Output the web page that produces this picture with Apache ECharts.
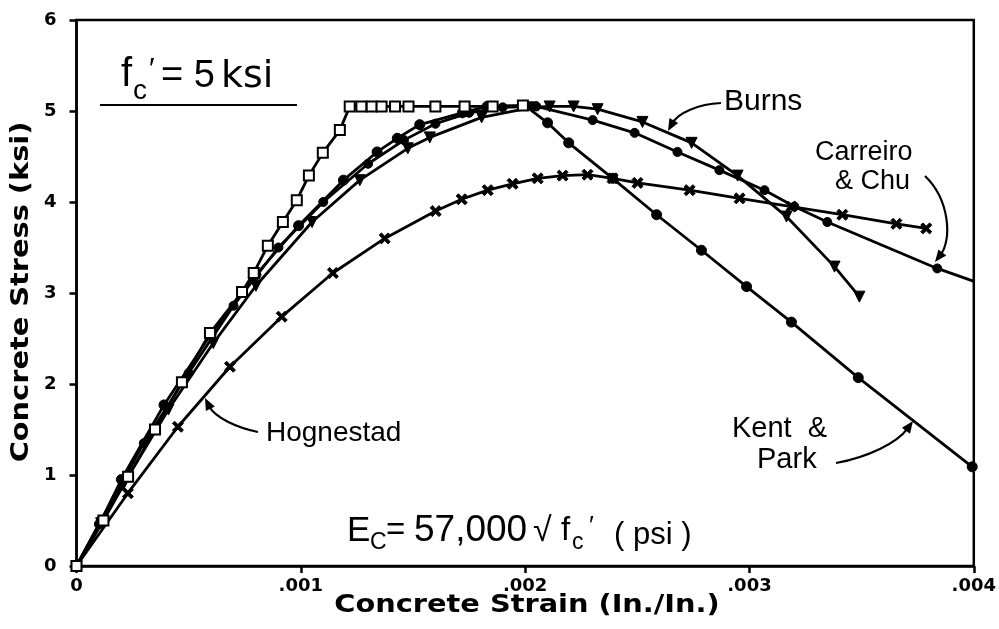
<!DOCTYPE html>
<html><head><meta charset="utf-8">
<script src="https://cdn.jsdelivr.net/npm/echarts@6/dist/echarts.min.js"></script>
<style>html,body{margin:0;padding:0;background:#fff}#c{width:999px;height:629px}</style>
</head><body><div id="c"></div>
<script>
// Strain values are in units of 0.001 in./in.; stress in ksi
const xTickLabels = ['0', '.001', '.002', '.003', '.004'];
const yTickLabels = ['0', '1', '2', '3', '4', '5', '6'];

const squareStrain = [0, 0.12, 0.23, 0.35, 0.47, 0.595, 0.738, 0.79, 0.853, 0.92, 0.982, 1.036, 1.098, 1.174, 1.218, 1.27, 1.316, 1.36, 1.42, 1.48, 1.60, 1.73, 1.855, 1.99];
const squareStress = [0, 0.5, 0.98, 1.5, 2.02, 2.56, 3.01, 3.22, 3.52, 3.78, 4.02, 4.29, 4.54, 4.79, 5.05, 5.05, 5.05, 5.05, 5.05, 5.05, 5.05, 5.05, 5.05, 5.06];

const kentParkStrain = [0, 0.11, 0.2, 0.39, 0.6, 0.8, 0.99, 1.19, 1.34, 1.43, 1.53, 1.72, 1.83, 2.0, 2.1, 2.194, 2.39, 2.586, 2.786, 2.987, 3.187, 3.485, 3.993];
const kentParkStress = [0, 0.5, 0.95, 1.77, 2.55, 3.2, 3.74, 4.24, 4.55, 4.70, 4.85, 4.98, 5.05, 5.06, 4.87, 4.65, 4.26, 3.86, 3.47, 3.07, 2.68, 2.07, 1.09];

const carreiroStrain = [0, 0.1, 0.3, 0.5, 0.7, 0.9, 1.1, 1.3, 1.46, 1.6, 1.75, 1.9, 2.05, 2.301, 2.488, 2.679, 2.866, 3.067, 3.2, 3.347, 3.837, 3.998];
const carreiroStress = [0, 0.46, 1.35, 2.12, 2.86, 3.5, 4.0, 4.42, 4.68, 4.86, 4.98, 5.04, 5.05, 4.90, 4.76, 4.55, 4.35, 4.13, 3.95, 3.78, 3.27, 3.13];

const burnsStrain = [0, 0.11, 0.21, 0.41, 0.61, 0.8, 1.05, 1.263, 1.477, 1.575, 1.806, 2.033, 2.109, 2.216, 2.323, 2.523, 2.742, 2.947, 3.165, 3.379, 3.49];
const burnsStress = [0, 0.47, 0.9, 1.72, 2.45, 3.08, 3.78, 4.24, 4.59, 4.71, 4.93, 5.04, 5.05, 5.05, 5.02, 4.88, 4.65, 4.29, 3.84, 3.29, 2.96];

const hognestadStrain = [0, 0.229, 0.452, 0.684, 0.915, 1.143, 1.374, 1.601, 1.717, 1.833, 1.944, 2.056, 2.167, 2.278, 2.39, 2.501, 2.733, 2.956, 3.187, 3.414, 3.655, 3.788];
const hognestadStress = [0, 0.80, 1.53, 2.19, 2.74, 3.22, 3.60, 3.90, 4.03, 4.13, 4.20, 4.26, 4.29, 4.30, 4.26, 4.21, 4.13, 4.04, 3.95, 3.86, 3.76, 3.71];

function zip(xs, ys) { return xs.map((x, i) => [x, ys[i]]); }

const chart = echarts.init(document.getElementById('c'), null, {renderer: 'canvas'});

const XSYM = 'path://M2,0L5,3L8,0L10,2L7,5L10,8L8,10L5,7L2,10L0,8L3,5L0,2Z';

function line(name, data, symbol, size, extra) {
  return Object.assign({
    type: 'line', name: name, data: data, symbol: symbol, symbolSize: size,
    showAllSymbol: true, animation: false, smooth: false,
    lineStyle: {color: '#000', width: 2.8},
    itemStyle: {color: '#000', borderColor: '#000'},
    emphasis: {disabled: true}
  }, extra || {});
}

const carreiroData = zip(carreiroStrain, carreiroStress).map((p, i, a) =>
  (i === a.length - 1) ? {value: p, symbol: 'none'} : p);

const txt = (text, x, y, size, extra) => Object.assign({
  type: 'text', x: x, y: y, silent: true,
  style: Object.assign({text: text, fill: '#000', font: 'normal ' + size + 'px "Liberation Sans", Arial, sans-serif', align: 'left', verticalAlign: 'middle'}, extra && extra.style || {})
}, extra && extra.el || {});

function arrow(p0, c1, c2, p1) {
  const dx = p1[0] - c2[0], dy = p1[1] - c2[1];
  const L = Math.hypot(dx, dy) || 1;
  const ux = dx / L, uy = dy / L;
  const len = 12, w = 5;
  const bx = p1[0] - ux * len, by = p1[1] - uy * len;
  return [
    {type: 'bezierCurve', silent: true, shape: {x1: p0[0], y1: p0[1], cpx1: c1[0], cpy1: c1[1], cpx2: c2[0], cpy2: c2[1], x2: bx + ux * 3, y2: by + uy * 3}, style: {stroke: '#000', lineWidth: 2.2, fill: null}},
    {type: 'polygon', silent: true, shape: {points: [[p1[0], p1[1]], [bx - uy * w, by + ux * w], [bx + uy * w, by - ux * w]]}, style: {fill: '#000'}}
  ];
}

const graphics = [
  // f'c = 5 ksi
  txt('f', 121, 75, 40),
  txt('c', 133, 91, 28),
  txt('\u2032', 149, 70, 30),
  txt('= 5', 161, 77, 38),
  txt('ksi', 221, 77, 38, {style: {font: 'normal 38px "DejaVu Sans", sans-serif'}}),
  {type: 'line', silent: true, shape: {x1: 100, y1: 105, x2: 297, y2: 105}, style: {stroke: '#000', lineWidth: 2.2}},
  // labels
  txt('Burns', 724, 102, 30),
  txt('Carreiro', 815, 153, 27),
  txt('& Chu', 835, 182, 27),
  txt('Hognestad', 266, 433, 28),
  txt('Kent  &', 732, 429, 29),
  txt('Park', 757, 460, 29),
  // Ec formula
  txt('E', 347, 531, 35),
  txt('C', 370, 543, 23),
  txt('=', 386, 531, 33),
  txt('57,000', 414, 531, 37),
  txt('\u221A', 533, 532, 34),
  txt('f', 561, 531, 33),
  txt('c', 572, 543, 23),
  txt('\u2032', 589, 527, 26),
  txt('( psi )', 614, 535, 31),
  // axis titles
  {type: 'text', silent: true, x: 527, y: 606, scaleX: 1.2,
   style: {text: 'Concrete Strain (In./In.)', fill: '#000', font: 'bold 24px "DejaVu Sans", sans-serif', align: 'center', verticalAlign: 'middle'}},
  {type: 'text', silent: true, x: 22, y: 292, rotation: Math.PI / 2, scaleX: 1.2,
   style: {text: 'Concrete Stress (ksi)', fill: '#000', font: 'bold 24px "DejaVu Sans", sans-serif', align: 'center', verticalAlign: 'middle'}}
].concat(
  arrow([721, 103], [698, 104], [678, 113], [668, 131]),
  arrow([925, 176], [950, 200], [952, 240], [935, 262]),
  arrow([258, 432], [238, 428], [215, 418], [205, 398]),
  arrow([836, 463], [868, 457], [897, 443], [913, 421])
);

chart.setOption({
  animation: false,
  backgroundColor: '#fff',
  grid: {left: 76.5, right: 25, top: 20, bottom: 63, show: true, borderColor: '#000', borderWidth: 2.5, backgroundColor: 'transparent'},
  xAxis: {
    type: 'value', min: 0, max: 4, interval: 1,
    axisLine: {show: true, onZero: false, lineStyle: {color: '#000', width: 2.5}},
    axisTick: {show: true, inside: false, length: 7, lineStyle: {color: '#000', width: 2.5}},
    splitLine: {show: false},
    axisLabel: {margin: 11, color: '#000', fontFamily: '"DejaVu Sans", sans-serif', fontWeight: 'bold', fontSize: 18,
      formatter: v => xTickLabels[Math.round(v)]}
  },
  yAxis: {
    type: 'value', min: 0, max: 6, interval: 1,
    axisLine: {show: true, onZero: false, lineStyle: {color: '#000', width: 2.5}},
    axisTick: {show: true, inside: false, length: 7, lineStyle: {color: '#000', width: 2.5}},
    splitLine: {show: false},
    axisLabel: {margin: 20, color: '#000', fontFamily: '"DejaVu Sans", sans-serif', fontWeight: 'bold', fontSize: 18,
      formatter: v => yTickLabels[Math.round(v)]}
  },
  series: [
    line('Hognestad', zip(hognestadStrain, hognestadStress), XSYM, 11),
    line('Kent & Park', zip(kentParkStrain, kentParkStress), 'circle', 10),
    line('Carreiro & Chu', carreiroData, 'circle', 9),
    line('Burns', zip(burnsStrain, burnsStress), 'triangle', 11, {symbolRotate: 180}),
    line('Square-marker curve', zip(squareStrain, squareStress), 'emptyRect', 10, {itemStyle: {color: '#000', borderColor: '#000', borderWidth: 3}})
  ],
  graphic: graphics
});
</script>
</body></html>
